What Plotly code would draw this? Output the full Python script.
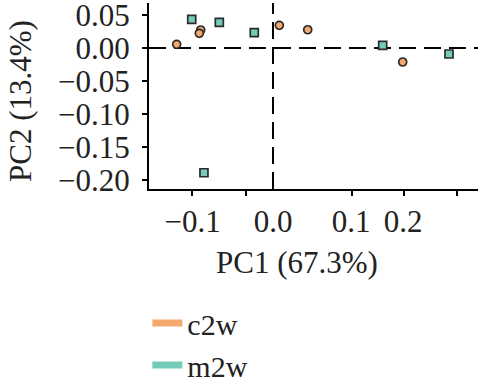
import plotly.graph_objects as go

# ---- data ----
groups = ["c2w", "m2w"]
c2w_pc1 = [-0.1204, -0.0904, -0.0921, 0.0079, 0.0434, 0.1621]
c2w_pc2 = [0.0056, 0.0273, 0.0223, 0.0344, 0.0277, -0.0212]
m2w_pc1 = [-0.1016, -0.0671, -0.0234, 0.1371, 0.2200, -0.0863]
m2w_pc2 = [0.0435, 0.0389, 0.0232, 0.0041, -0.0091, -0.1890]

y_tickvals = [0.05, 0.00, -0.05, -0.10, -0.15, -0.20]
y_ticktext = ["0.05", "0.00", "\u22120.05", "\u22120.10", "\u22120.15", "\u22120.20"]
x_tick_marks = [-0.10125, -0.03375, 0.0984, 0.164, 0.2304]
x_label_vals = [-0.1006, 0.0, 0.0975, 0.1625]
x_label_text = ["\u22120.1", "0.0", "0.1", "0.2"]

colors = {"c2w": "#F5A86E", "m2w": "#74CBBA"}
edge = "#2b2b2b"
FONT = "Liberation Serif, Times New Roman, serif"
TXT = "#222222"

fig = go.Figure()
fig.add_trace(go.Scatter(x=c2w_pc1, y=c2w_pc2, mode="markers", showlegend=False,
                         marker=dict(symbol="circle", size=8, color=colors["c2w"],
                                     line=dict(color=edge, width=1.7))))
fig.add_trace(go.Scatter(x=m2w_pc1, y=m2w_pc2, mode="markers", showlegend=False,
                         marker=dict(symbol="square", size=8, color=colors["m2w"],
                                     line=dict(color=edge, width=1.7))))
# legend keys (bars)
for g in groups:
    fig.add_trace(go.Scatter(x=[None], y=[None], mode="lines", name=g,
                             line=dict(color=colors[g], width=7)))

# reference lines at zero
fig.add_shape(type="line", xref="paper", yref="y", x0=0, x1=1, y0=0, y1=0,
              line=dict(color="black", width=2, dash="17px,8px"), layer="below")
fig.add_shape(type="line", xref="x", yref="paper", x0=0, x1=0, y0=0, y1=1,
              line=dict(color="black", width=2, dash="17px,8px"), layer="below")

xr = [-0.155, 0.25625]
yr = [-0.2136, 0.0682]

fig.update_layout(
    width=478, height=384,
    margin=dict(l=149, r=0, t=3, b=195, autoexpand=False),
    paper_bgcolor="white", plot_bgcolor="white",
    font=dict(family=FONT, size=31, color=TXT),
    xaxis=dict(range=xr, showgrid=False, zeroline=False, showline=True,
               linecolor="black", linewidth=2, ticks="outside", ticklen=5,
               tickwidth=1.5, tickcolor="black", automargin=False,
               tickvals=x_tick_marks, ticktext=[""] * len(x_tick_marks)),
    xaxis2=dict(range=xr, overlaying="x", anchor="y", side="bottom",
                showgrid=False, zeroline=False, showline=False, automargin=False,
                ticks="outside", ticklen=5, tickcolor="rgba(0,0,0,0)",
                ticklabeloverflow="allow", ticklabelstandoff=0,
                tickvals=x_label_vals, ticktext=x_label_text,
                tickfont=dict(family=FONT, size=31, color=TXT)),
    yaxis=dict(range=yr, showgrid=False, zeroline=False, showline=True,
               linecolor="black", linewidth=2, ticks="outside", ticklen=5,
               tickwidth=1.5, tickcolor="black", automargin=False,
               ticklabeloverflow="allow", ticklabelstandoff=6,
               tickvals=y_tickvals, ticktext=y_ticktext,
               tickfont=dict(family=FONT, size=31, color=TXT)),
    legend=dict(x=-0.005, xanchor="left", y=-0.58, yanchor="top",
                orientation="v", font=dict(family=FONT, size=30, color=TXT),
                bgcolor="rgba(0,0,0,0)", tracegroupgap=0, itemwidth=30),
    showlegend=True,
)
# dummy trace so xaxis2 is drawn
fig.add_trace(go.Scatter(x=[None], y=[None], xaxis="x2", yaxis="y", showlegend=False))

fig.add_annotation(text="PC1 (67.3%)", xref="paper", yref="paper",
                   x=(297 - 149) / (478 - 149), y=-(262 - 189) / (189 - 3),
                   xanchor="center", yanchor="middle", showarrow=False,
                   font=dict(family=FONT, size=31, color=TXT))
fig.add_annotation(text="PC2 (13.4%)", xref="paper", yref="paper", textangle=-90,
                   x=-(149 - 20) / (478 - 149), y=(189 - 101) / (189 - 3),
                   xanchor="center", yanchor="middle", showarrow=False,
                   font=dict(family=FONT, size=31, color=TXT))

fig.write_html("out.html", config={"displayModeBar": False},
               post_script="document.body.style.margin='0';")
